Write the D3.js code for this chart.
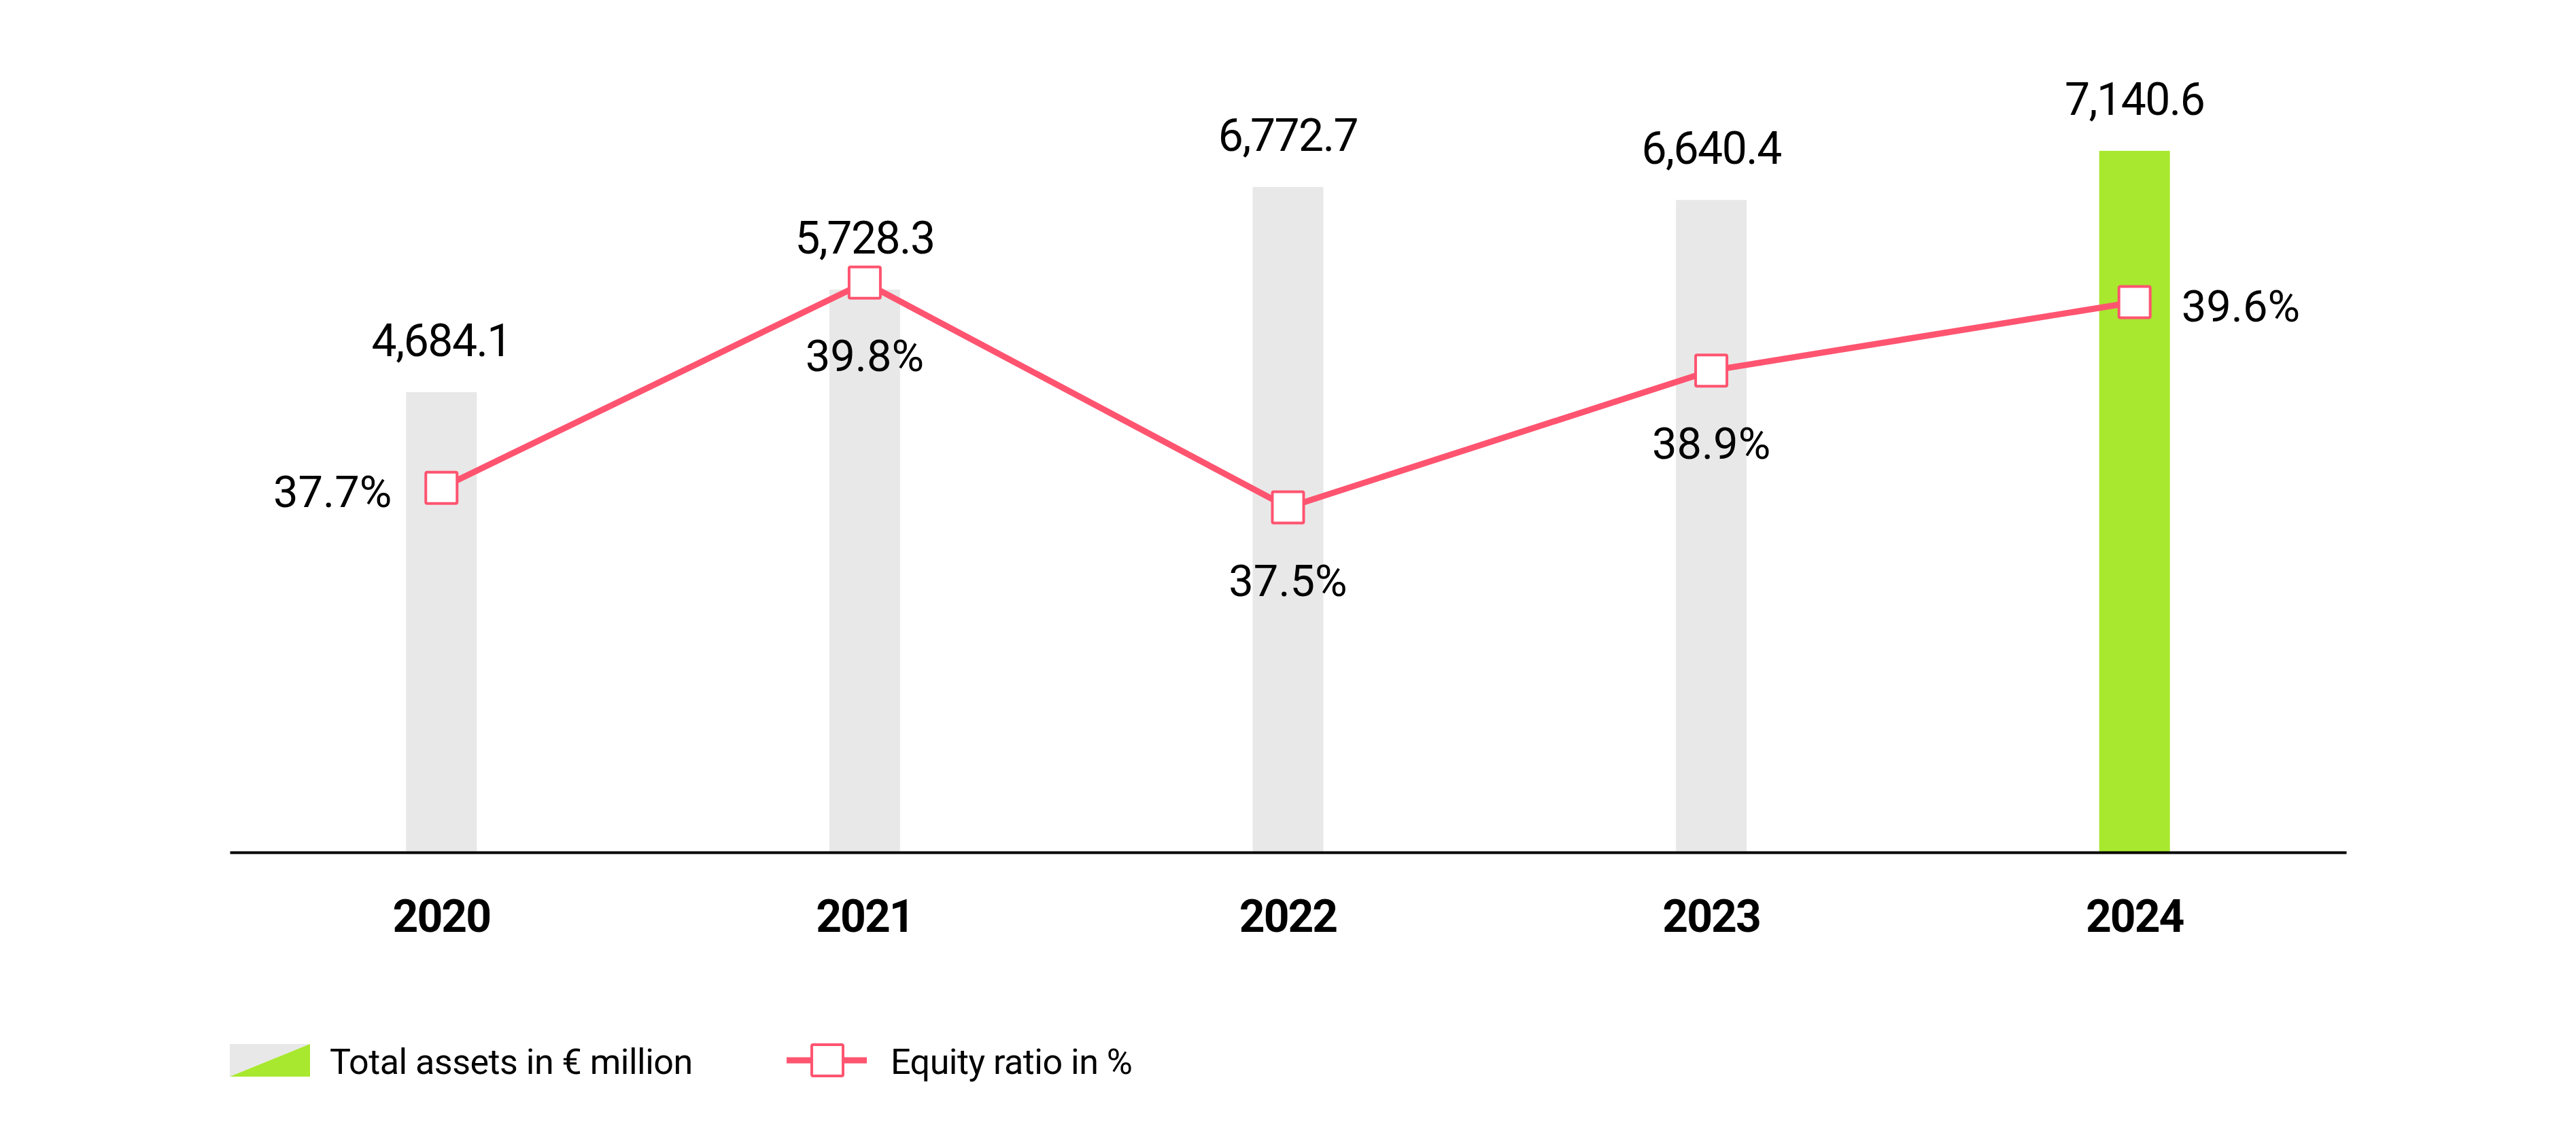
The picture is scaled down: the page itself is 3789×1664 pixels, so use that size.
<!DOCTYPE html>
<html>
<head>
<meta charset="utf-8">
<script src="https://cdn.jsdelivr.net/npm/d3@7"></script>
<style>
  body { margin: 0; background: #fff; }
  text { font-family: Roboto, "Liberation Sans", sans-serif; }
</style>
</head>
<body>
<div id="chart"></div>
<script>
const years = ['2020', '2021', '2022', '2023', '2024']
const totalAssets = [4684.1, 5728.3, 6772.7, 6640.4, 7140.6]
const equityRatio = [37.7, 39.8, 37.5, 38.9, 39.6]
const assetLabels = ['4,684.1', '5,728.3', '6,772.7', '6,640.4', '7,140.6']
const ratioLabels = ['37.7%', '39.8%', '37.5%', '38.9%', '39.6%']
const legendLabels = ['Total assets in € million', 'Equity ratio in %']

const W = 3789, H = 1664
const gray = '#e8e8e8', green = '#a8e82e', pink = '#ff5470'

const svg = d3.select('#chart').append('svg')
    .attr('width', W)
    .attr('height', H)

const x = d3.scaleBand().domain(years).range([338, 3451])
const y = d3.scaleLinear().domain([0, 8676]).range([1254, 0])
const y2 = d3.scaleLinear().domain([35, 40]).range([1106, 387])
const cx = d => x(d) + x.bandwidth() / 2
const barW = 104
const mk = 46

// bars
svg.selectAll('.bar')
    .data(years)
    .join('rect')
    .attr('class', 'bar')
    .attr('x', d => cx(d) - barW / 2)
    .attr('width', barW)
    .attr('y', (d, i) => y(totalAssets[i]))
    .attr('height', (d, i) => y(0) - y(totalAssets[i]))
    .attr('fill', (d, i) => i === years.length - 1 ? green : gray)

// bar value labels
svg.selectAll('.vlab')
    .data(years)
    .join('text')
    .attr('class', 'vlab')
    .attr('x', d => cx(d))
    .attr('y', (d, i) => y(totalAssets[i]) - 53)
    .attr('text-anchor', 'middle')
    .attr('font-size', 66)
    .attr('letter-spacing', -1.5)
    .attr('fill', '#000')
    .text((d, i) => assetLabels[i])

// x axis
const axis = svg.append('g')
    .attr('transform', `translate(0,${y(0)})`)
    .call(d3.axisBottom(x).tickSize(0).tickSizeOuter(0))
axis.select('.domain').attr('stroke', '#000').attr('stroke-width', 4)
axis.selectAll('text')
    .attr('y', 117)
    .attr('dy', 0)
    .attr('font-size', 66)
    .attr('font-weight', 'bold')
    .attr('letter-spacing', -2)
    .attr('font-family', 'Roboto, sans-serif')
    .attr('fill', '#000')

// equity ratio line
const line = d3.line()
    .x(d => cx(d))
    .y((d, i) => y2(equityRatio[i]))

svg.append('path')
    .datum(years)
    .attr('d', line)
    .attr('fill', 'none')
    .attr('stroke', pink)
    .attr('stroke-width', 9)
    .attr('stroke-linejoin', 'round')

svg.selectAll('.mk')
    .data(years)
    .join('rect')
    .attr('class', 'mk')
    .attr('x', d => cx(d) - mk / 2)
    .attr('y', (d, i) => y2(equityRatio[i]) - mk / 2)
    .attr('width', mk)
    .attr('height', mk)
    .attr('rx', 2)
    .attr('fill', '#fff')
    .attr('stroke', pink)
    .attr('stroke-width', 4)

// ratio labels: left, below, below, below, right
const ratioPos = ['left', 'below', 'below', 'below', 'right']
svg.selectAll('.rlab')
    .data(years)
    .join('text')
    .attr('class', 'rlab')
    .attr('x', (d, i) => ratioPos[i] === 'left' ? cx(d) - 73 : ratioPos[i] === 'right' ? cx(d) + 69 : cx(d))
    .attr('y', (d, i) => y2(equityRatio[i]) + (ratioPos[i] === 'below' ? 130 : 28))
    .attr('text-anchor', (d, i) => ratioPos[i] === 'left' ? 'end' : ratioPos[i] === 'right' ? 'start' : 'middle')
    .attr('font-size', 65)
    .attr('fill', '#000')
    .text((d, i) => ratioLabels[i])

// legend
const lg = svg.append('g')
lg.append('polygon')
    .attr('points', '338,1536 456,1536 338,1584')
    .attr('fill', gray)
lg.append('polygon')
    .attr('points', '456,1536 456,1584 338,1584')
    .attr('fill', green)
lg.append('text')
    .attr('x', 485)
    .attr('y', 1580)
    .attr('font-size', 52)
    .attr('letter-spacing', -0.5)
    .attr('fill', '#000')
    .text(legendLabels[0])

lg.append('line')
    .attr('x1', 1157).attr('x2', 1275)
    .attr('y1', 1560).attr('y2', 1560)
    .attr('stroke', pink)
    .attr('stroke-width', 9)
lg.append('rect')
    .attr('x', 1194).attr('y', 1537)
    .attr('width', mk).attr('height', mk)
    .attr('rx', 2)
    .attr('fill', '#fff')
    .attr('stroke', pink)
    .attr('stroke-width', 4)
lg.append('text')
    .attr('x', 1310)
    .attr('y', 1580)
    .attr('font-size', 52)
    .attr('letter-spacing', -0.5)
    .attr('fill', '#000')
    .text(legendLabels[1])
</script>
</body>
</html>
